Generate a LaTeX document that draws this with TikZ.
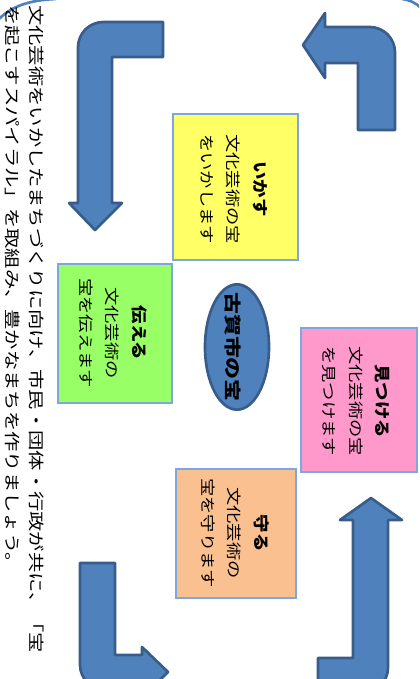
\documentclass[tikz,border=0pt]{standalone}
\usepackage{fontspec}
\usetikzlibrary{shapes.geometric}
\newfontfamily\jp{Noto Sans CJK JP}
\definecolor{arrowfill}{HTML}{4F81BD}
\definecolor{arrowline}{HTML}{385D8A}
\definecolor{boxline}{HTML}{7EA6E0}
\definecolor{byellow}{HTML}{FFFF66}
\definecolor{bgreen}{HTML}{99FF66}
\definecolor{bpink}{HTML}{FF99CC}
\definecolor{borange}{HTML}{FAC090}
\definecolor{framec}{HTML}{4F81BD}
\newcommand\stx[2]{\scalebox{#1}[1]{#2}}
\tikzset{
  bendarrow/.style={fill=arrowfill, draw=arrowline, line width=2pt, line join=round},
  infobox/.style={draw=boxline, line width=1.1pt},
  boxtext/.style={rotate=-90, align=center, inner sep=0pt,
    font=\jp\fontsize{11.25pt}{20pt}\selectfont},
  maintext/.style={rotate=-90, anchor=west, inner sep=0pt,
    font=\jp\fontsize{12pt}{14pt}\selectfont},
}
\begin{document}
\begin{tikzpicture}[x=0.75pt,y=-0.75pt]
\useasboundingbox (0,0) rectangle (419,679);
\clip (0,0) rectangle (419,679);
\fill[white] (0,0) rectangle (419,679);

% frame corners
\draw[framec, line width=2pt] (-1,19) .. controls (12,6) and (30,0) .. (56,-1);
\draw[framec, line width=2pt] (402,-1) .. controls (410,0) and (416,3) .. (421,8);

% bent arrows
\draw[bendarrow] (163,22) [rounded corners=19pt]-- (78,22) [sharp corners]-- (78,203)
  -- (69,203) -- (95,230) -- (122,203) -- (112,203) -- (112,57) -- (163,57) -- cycle;
\draw[bendarrow] (358,130) -- (358,63) -- (325,63) -- (325,78) -- (303,45) -- (325,13)
  -- (325,27) [rounded corners=19pt]-- (395,27) [sharp corners]-- (395,130) -- cycle;
\draw[bendarrow] (318,658) -- (353,658) -- (353,520) -- (340,520) -- (371,498)
  -- (402,520) -- (388,520) [rounded corners=19pt]-- (388,693) [sharp corners]-- (318,693) -- cycle;
\draw[bendarrow] (115,563) -- (115,655) -- (142,655) -- (142,647) -- (168,672)
  -- (142,698) -- (142,690) [rounded corners=19pt]-- (80,690) [sharp corners]-- (80,563) -- cycle;

% boxes
\draw[infobox, fill=byellow] (173,114) rectangle (298,260);
\draw[infobox, fill=bgreen] (58,264) rectangle (172,403);
\draw[infobox, fill=bpink] (301,328) rectangle (417,472);
\draw[infobox, fill=borange] (176,469) rectangle (296,598);

% core ellipse
\node[ellipse, fill=arrowfill, draw=arrowline, line width=2pt, inner sep=0pt,
  minimum width=48pt, minimum height=94pt] (core) at (237,347) {};
\node[rotate=-90, inner sep=0pt, font=\jp\bfseries\fontsize{12.75pt}{14pt}\selectfont]
  (coretext) at (233,347) {\stx{1.29}{古賀市の宝}};

% box texts
\node[boxtext] (ikasu) at (234,189)
  {\stx{1.15}{\bfseries\fontsize{12pt}{20pt}\selectfont いかす}\\ \stx{1.22}{文化芸術の宝}\\ \stx{1.22}{をいかします}};
\node[boxtext] (tsutaeru) at (113,333)
  {\stx{1.15}{\bfseries\fontsize{12pt}{20pt}\selectfont 伝える}\\ \stx{1.22}{文化芸術の}\\ \stx{1.22}{宝を伝えます}};
\node[boxtext] (mitsukeru) at (356,401)
  {\stx{1.15}{\bfseries\fontsize{12pt}{20pt}\selectfont 見つける}\\ \stx{1.22}{文化芸術の宝}\\ \stx{1.22}{を見つけます}};
\node[boxtext] (mamoru) at (235,533)
  {\stx{1.15}{\bfseries\fontsize{12pt}{20pt}\selectfont 守る}\\ \stx{1.22}{文化芸術の}\\ \stx{1.22}{宝を守ります}};

% main text
\node[maintext] (line1) at (37,5) {\stx{1.27}{文化芸術をいかしたまちづくりに向け、市民・団体・行政が共に、「宝}};
\node[maintext] (line2) at (13,5) {\stx{1.27}{を起こすスパイラル」を取組み、豊かなまちを作りましょう。}};
\end{tikzpicture}
\end{document}
